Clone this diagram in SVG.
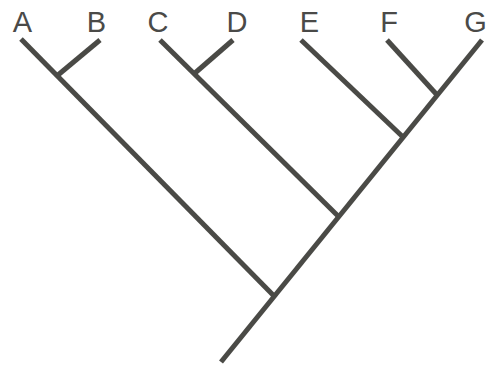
<svg xmlns="http://www.w3.org/2000/svg" width="487" height="365" viewBox="0 0 487 365">
<style>
.br{stroke:#4a4a46;stroke-width:5;stroke-linecap:butt;fill:none}
.lb{font-family:"Liberation Sans",Arial,sans-serif;font-size:29px;fill:#4a4a48;text-anchor:middle}
</style>
<rect width="487" height="365" fill="#ffffff"/>
<g id="connectors">
<line class="br" x1="221" y1="362" x2="482" y2="40"/>
<line class="br" x1="21" y1="39" x2="275" y2="297"/>
<line class="br" x1="100" y1="40" x2="58" y2="75"/>
<line class="br" x1="160" y1="40" x2="338" y2="216"/>
<line class="br" x1="233" y1="40" x2="195" y2="73"/>
<line class="br" x1="301" y1="40" x2="404" y2="138"/>
<line class="br" x1="387" y1="40" x2="438" y2="96"/>
</g>
<g id="A"><text class="lb" x="22.5" y="32">A</text></g>
<g id="B"><text class="lb" x="96.5" y="32">B</text></g>
<g id="C"><text class="lb" x="158" y="32">C</text></g>
<g id="D"><text class="lb" x="237" y="32">D</text></g>
<g id="E"><text class="lb" x="309.5" y="32">E</text></g>
<g id="F"><text class="lb" x="389" y="32">F</text></g>
<g id="G"><text class="lb" x="475.5" y="32">G</text></g>
</svg>
